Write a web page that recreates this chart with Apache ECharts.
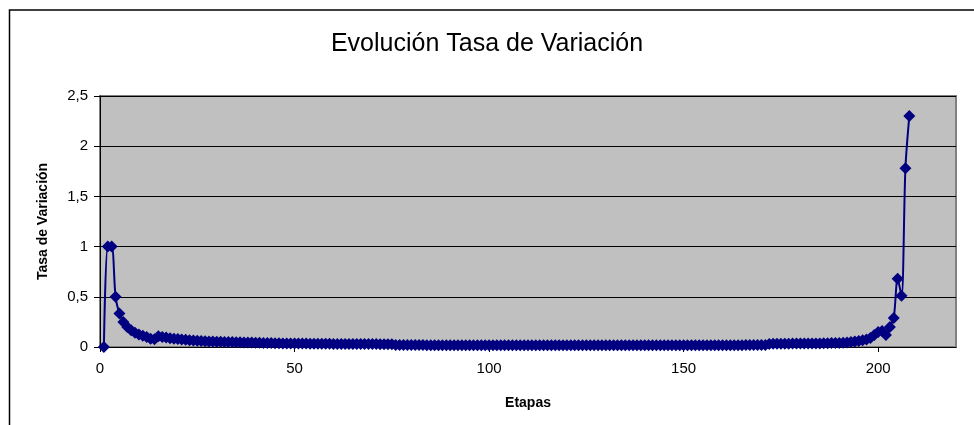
<!DOCTYPE html>
<html>
<head>
<meta charset="utf-8">
<script src="https://cdn.jsdelivr.net/npm/echarts@6/dist/echarts.min.js"></script>
<style>html,body{margin:0;padding:0;background:#fff}#c{width:974px;height:425px}</style>
</head>
<body>
<div id="c"></div>
<script>
const titleText = 'Evolución Tasa de Variación';
const xName = 'Etapas';
const yName = 'Tasa de Variación';
const xTicks = [0, 50, 100, 150, 200];
const yTicks = [0, 0.5, 1, 1.5, 2, 2.5];
// Tasa de variación per etapa (etapa 1 .. 208)
const tasa = [
  0, 1, 1, 0.5, 0.333, 0.25, 0.2, 0.167, 0.143, 0.125, 0.111, 0.1,
  0.083, 0.077, 0.107, 0.1, 0.094, 0.088, 0.083, 0.079, 0.075, 0.071, 0.068, 0.065,
  0.062, 0.06, 0.058, 0.056, 0.054, 0.053, 0.052, 0.051, 0.05, 0.049, 0.048, 0.047,
  0.046, 0.045, 0.044, 0.043, 0.042, 0.041, 0.04, 0.039, 0.038, 0.037, 0.036, 0.036,
  0.035, 0.035, 0.034, 0.034, 0.034, 0.033, 0.033, 0.033, 0.032, 0.032, 0.032, 0.031,
  0.031, 0.031, 0.031, 0.03, 0.03, 0.03, 0.03, 0.029, 0.029, 0.029, 0.029, 0.028,
  0.028, 0.028, 0.028,
  0.02, 0.02, 0.019, 0.019, 0.019, 0.019, 0.019, 0.019, 0.018, 0.018, 0.018, 0.018,
  0.018, 0.018, 0.018, 0.018, 0.018, 0.017, 0.017, 0.017, 0.017, 0.017, 0.017, 0.017,
  0.017, 0.017, 0.017, 0.017, 0.017, 0.017, 0.017, 0.017, 0.017, 0.017, 0.017, 0.017,
  0.017, 0.017, 0.017, 0.017, 0.017, 0.017, 0.017, 0.017, 0.017, 0.017, 0.017, 0.017,
  0.017, 0.017, 0.017, 0.017, 0.017, 0.017, 0.017, 0.017, 0.017, 0.017, 0.017, 0.017,
  0.017, 0.017, 0.017, 0.017, 0.017, 0.017, 0.017, 0.017, 0.017, 0.017, 0.017, 0.017,
  0.017, 0.017, 0.017, 0.017, 0.017, 0.018, 0.018, 0.018, 0.018, 0.018, 0.018, 0.018,
  0.018, 0.018, 0.018, 0.018, 0.018, 0.018, 0.019, 0.019, 0.019, 0.019, 0.02, 0.02,
  0.03, 0.032, 0.032, 0.033, 0.033, 0.033, 0.034, 0.034, 0.034, 0.035, 0.035, 0.035,
  0.036, 0.036, 0.037, 0.038, 0.039, 0.04, 0.041,
  0.043, 0.046, 0.05, 0.054, 0.06, 0.066, 0.075, 0.09, 0.12, 0.15, 0.16, 0.12,
  0.2, 0.29, 0.68, 0.51, 1.78, 2.3
];
const etapas = tasa.map((_, i) => i + 1);

const chart = echarts.init(document.getElementById('c'), null, {renderer: 'canvas'});
const F = 'Liberation Sans, Arial, sans-serif';
chart.setOption({
  backgroundColor: '#ffffff',
  animation: false,
  title: {
    text: titleText, left: 'center', top: 27,
    textStyle: {fontFamily: F, fontSize: 25, fontWeight: 'normal', color: '#000'}
  },
  graphic: [{
    type: 'rect', silent: true, z: -1,
    shape: {x: 9.5, y: 10, width: 1000, height: 500},
    style: {fill: 'none', stroke: '#000', lineWidth: 1.5}
  }],
  grid: {
    left: 100, top: 96, right: 18, bottom: 78,
    show: true, backgroundColor: '#c0c0c0', borderColor: '#808080', borderWidth: 2
  },
  xAxis: {
    type: 'value', min: 0, max: 220, interval: 50,
    name: xName, nameLocation: 'middle', nameGap: 49,
    nameTextStyle: {fontFamily: F, fontSize: 14, fontWeight: 'bold', color: '#000'},
    axisLine: {show: true, onZero: false, lineStyle: {color: '#000', width: 1}},
    axisTick: {show: true, length: 5, customValues: xTicks, lineStyle: {color: '#000'}},
    axisLabel: {customValues: xTicks, margin: 14, fontFamily: F, fontSize: 15, color: '#000'},
    splitLine: {show: false}
  },
  yAxis: {
    type: 'value', min: 0, max: 2.5, interval: 0.5,
    name: yName, nameLocation: 'middle', nameGap: 50, nameRotate: 90,
    nameTextStyle: {fontFamily: F, fontSize: 14, fontWeight: 'bold', color: '#000'},
    axisLine: {show: true, lineStyle: {color: '#000', width: 1}},
    axisTick: {show: true, length: 6, lineStyle: {color: '#000'}},
    axisLabel: {margin: 12, fontFamily: F, fontSize: 15, color: '#000',
      formatter: v => String(v).replace('.', ',')},
    splitLine: {show: true, lineStyle: {color: '#000', width: 1}}
  },
  series: [{
    type: 'line',
    data: etapas.map((e, i) => [e, tasa[i]]),
    smooth: 0.3,
    symbol: 'diamond', symbolSize: 12, showAllSymbol: true,
    lineStyle: {color: '#000080', width: 2},
    itemStyle: {color: '#000080'},
    clip: false
  }]
});
</script>
</body>
</html>
